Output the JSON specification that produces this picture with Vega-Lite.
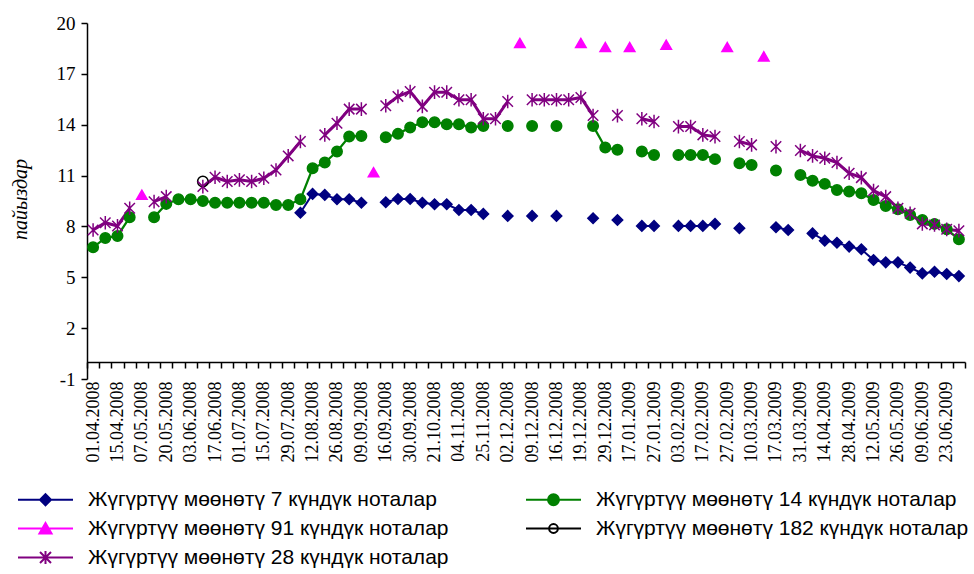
{
  "$schema": "https://vega.github.io/schema/vega-lite/v6.json",
  "width": 878,
  "height": 356,
  "autosize": {"type": "none"},
  "padding": {"left": 87, "top": 23, "right": 9, "bottom": 195},
  "background": "white",
  "config": {
    "view": {"stroke": null},
    "axis": {"grid": false, "domainColor": "black", "tickColor": "black", "labelColor": "black", "labelFont": "Liberation Serif, Times New Roman, serif", "labelFontSize": 18, "domainWidth": 1.5, "tickWidth": 1.5}
  },
  "data": {"values": [
    {"date":"2008-04-01","d14":6.77,"d28":7.79},
    {"date":"2008-04-08","d14":7.32,"d28":8.22},
    {"date":"2008-04-15","d14":7.44,"d28":8.03},
    {"date":"2008-04-29","d14":8.54,"d28":9.07},
    {"date":"2008-05-07","d91":9.87},
    {"date":"2008-05-13","d14":8.54,"d28":9.46},
    {"date":"2008-05-20","d14":9.33,"d28":9.76},
    {"date":"2008-05-27","d14":9.6},
    {"date":"2008-06-03","d14":9.6},
    {"date":"2008-06-10","d14":9.5,"d28":10.35,"d182":10.65},
    {"date":"2008-06-17","d14":9.4,"d28":10.9},
    {"date":"2008-06-24","d14":9.4,"d28":10.65},
    {"date":"2008-07-01","d14":9.4,"d28":10.75},
    {"date":"2008-07-08","d14":9.4,"d28":10.65},
    {"date":"2008-07-15","d14":9.4,"d28":10.84},
    {"date":"2008-07-22","d14":9.27,"d28":11.33},
    {"date":"2008-07-29","d14":9.27,"d28":12.16},
    {"date":"2008-08-05","d7":8.81,"d14":9.6,"d28":13.01},
    {"date":"2008-08-12","d7":9.92,"d14":11.43},
    {"date":"2008-08-19","d7":9.86,"d14":11.77,"d28":13.4},
    {"date":"2008-08-26","d7":9.6,"d14":12.42,"d28":14.09},
    {"date":"2008-09-02","d7":9.6,"d14":13.3,"d28":14.92},
    {"date":"2008-09-09","d7":9.4,"d14":13.34,"d28":14.92},
    {"date":"2008-09-12","d91":11.2},
    {"date":"2008-09-16","d7":9.43,"d14":13.26,"d28":15.12},
    {"date":"2008-09-23","d7":9.62,"d14":13.46,"d28":15.67},
    {"date":"2008-09-30","d7":9.62,"d14":13.84,"d28":15.96},
    {"date":"2008-10-14","d7":9.4,"d14":14.15,"d28":15.08},
    {"date":"2008-10-21","d7":9.31,"d14":14.15,"d28":15.92},
    {"date":"2008-10-28","d7":9.31,"d14":14.03,"d28":15.92},
    {"date":"2008-11-04","d7":8.97,"d14":14.03,"d28":15.47},
    {"date":"2008-11-18","d7":8.97,"d14":13.84,"d28":15.47},
    {"date":"2008-11-25","d7":8.74,"d14":13.93,"d28":14.35},
    {"date":"2008-11-28","d28":14.35},
    {"date":"2008-12-02","d7":8.62,"d14":13.93,"d28":15.37},
    {"date":"2008-12-05","d91":18.82},
    {"date":"2008-12-09","d7":8.62,"d14":13.93,"d28":15.47},
    {"date":"2008-12-12","d28":15.47},
    {"date":"2008-12-16","d7":8.62,"d14":13.93,"d28":15.47},
    {"date":"2008-12-18","d28":15.47},
    {"date":"2008-12-19","d28":15.61,"d91":18.82},
    {"date":"2008-12-23","d7":8.48,"d14":13.93,"d28":14.54},
    {"date":"2008-12-29","d14":12.65,"d91":18.58},
    {"date":"2009-01-13","d7":8.38,"d14":12.52,"d28":14.54},
    {"date":"2009-01-17","d91":18.58},
    {"date":"2009-01-20","d7":8.03,"d14":12.42,"d28":14.35},
    {"date":"2009-01-27","d7":8.03,"d14":12.22,"d28":14.19},
    {"date":"2009-01-30","d91":18.72},
    {"date":"2009-02-03","d7":8.03,"d14":12.22,"d28":13.89},
    {"date":"2009-02-10","d7":8.03,"d14":12.22,"d28":13.89},
    {"date":"2009-02-17","d7":8.03,"d14":12.22,"d28":13.4},
    {"date":"2009-02-24","d7":8.15,"d14":11.97,"d28":13.3},
    {"date":"2009-02-27","d91":18.58},
    {"date":"2009-03-03","d7":7.89,"d14":11.73,"d28":13.01},
    {"date":"2009-03-10","d14":11.63,"d28":12.81},
    {"date":"2009-03-13","d91":18.03},
    {"date":"2009-03-17","d7":7.95,"d14":11.3,"d28":12.71},
    {"date":"2009-03-24","d7":7.79},
    {"date":"2009-03-31","d14":11.04,"d28":12.48},
    {"date":"2009-04-07","d7":7.59,"d14":10.7,"d28":12.16},
    {"date":"2009-04-14","d7":7.16,"d14":10.51,"d28":12.02},
    {"date":"2009-04-21","d7":7.04,"d14":10.15,"d28":11.77},
    {"date":"2009-04-28","d7":6.81,"d14":10.06,"d28":11.14},
    {"date":"2009-05-05","d7":6.65,"d14":9.96,"d28":10.88},
    {"date":"2009-05-12","d7":6.02,"d14":9.56,"d28":10.11},
    {"date":"2009-05-19","d7":5.88,"d14":9.21,"d28":9.76},
    {"date":"2009-05-26","d7":5.88,"d14":9.01,"d28":9.07},
    {"date":"2009-06-02","d7":5.57,"d14":8.68,"d28":8.78},
    {"date":"2009-06-09","d7":5.23,"d14":8.38,"d28":8.15},
    {"date":"2009-06-16","d7":5.33,"d14":8.15,"d28":8.09},
    {"date":"2009-06-23","d7":5.19,"d14":7.83,"d28":7.83},
    {"date":"2009-06-30","d7":5.07,"d14":7.24,"d28":7.75}
  ]},
  "transform": [{"fold": ["d7","d14","d91","d182","d28"], "as": ["series","value"]}],
  "encoding": {
    "x": {
      "field": "date", "type": "ordinal", "timeUnit": "utcyearmonthdate",
      "scale": {"type": "band", "paddingInner": 0, "paddingOuter": 0},
      "axis": {"title": null, "orient": "bottom", "offset": -17, "format": "%d.%m.%Y", "labelAngle": 270, "labelAlign": "right", "labelBaseline": "middle", "labelPadding": 13, "tickSize": 6, "tickBand": "extent", "labelOverlap": false, "labelExpr": "round(datum.index * 71) % 2 == 0 ? datum.label : ''"}
    },
    "y": {
      "field": "value", "type": "quantitative",
      "scale": {"domain": [-1, 20], "nice": false, "zero": false},
      "axis": {"values": [-1,2,5,8,11,14,17,20], "labelExpr": "'' + datum.value", "labelFontSize": 19, "tickSize": 6, "labelPadding": 6, "title": "пайыздар", "titleFont": "Liberation Serif, Times New Roman, serif", "titleFontSize": 20, "titleFontStyle": "italic", "titleFontWeight": "normal", "titleColor": "black", "titleAngle": 270, "titleX": -67, "titleY": 176, "titleAlign": "center", "titleBaseline": "middle"}
    }
  },
  "layer": [
    {
      "mark": {"type": "line", "invalid": "break-paths-show-domains"},
      "encoding": {
        "stroke": {"field": "series", "type": "nominal", "legend": null, "scale": {"domain": ["d7","d14","d91","d182","d28"], "range": ["#000080","#008000","#FF00FF","#000000","#800080"]}},
        "strokeWidth": {"field": "series", "type": "ordinal", "legend": null, "scale": {"domain": ["d7","d14","d91","d182","d28"], "range": [2, 3, 1, 1, 2]}}
      }
    },
    {
      "mark": {"type": "point", "opacity": 1, "strokeWidth": 1.5},
      "encoding": {
        "shape": {"field": "series", "type": "nominal", "legend": null, "scale": {"domain": ["d7","d14","d91","d182","d28"], "range": ["diamond", "circle", "triangle-up", "circle", "M-1,-1L1,1M-1,1L1,-1M0,-1.3L0,1.3"]}},
        "fill": {"field": "series", "type": "nominal", "legend": null, "scale": {"domain": ["d7","d14","d91","d182","d28"], "range": ["#000080","#008000","#FF00FF","transparent","transparent"]}},
        "stroke": {"field": "series", "type": "nominal", "legend": null, "scale": {"domain": ["d7","d14","d91","d182","d28"], "range": ["#000080","#008000","#FF00FF","#000000","#800080"]}},
        "size": {"field": "series", "type": "ordinal", "legend": null, "scale": {"domain": ["d7","d14","d91","d182","d28"], "range": [110, 110, 160, 70, 150]}}
      }
    },
    {
      "transform": [{"filter": "false"}],
      "mark": {"type": "point", "opacity": 1, "strokeWidth": 2, "size": 121},
      "encoding": {
        "shape": {"field": "series", "type": "nominal", "scale": {"domain": ["d7","d14","d91","d182","d28"], "range": ["M-1,0H9M4,-1L5,0L4,1L3,0Z", "M-1,0H9M3,0A1,1 0 1,0 5,0A1,1 0 1,0 3,0Z", "M-1,0H9M4,-1L5.1,0.9L2.9,0.9Z", "M-1,0H9M3.2,0A0.8,0.8 0 1,0 4.8,0A0.8,0.8 0 1,0 3.2,0Z", "M-1,0H9M3,-1L5,1M3,1L5,-1M4,-1.2L4,1.2"]},
          "legend": {"title": null, "orient": "none", "legendX": -74, "legendY": 466, "columns": 2, "direction": "horizontal", "padding": 0, "symbolSize": 121, "symbolStrokeWidth": 2, "labelOffset": 54, "columnPadding": 72, "rowPadding": 7, "labelFont": "Liberation Sans, Arial, sans-serif", "labelFontSize": 21, "labelColor": "black", "labelLimit": 0, "labelExpr": "'Жүгүртүү мөөнөтү ' + slice(datum.label, 1) + ' күндүк ноталар'"}},
        "fill": {"field": "series", "type": "nominal", "scale": {"domain": ["d7","d14","d91","d182","d28"], "range": ["#000080","#008000","#FF00FF","transparent","transparent"]},
          "legend": {"title": null, "orient": "none", "legendX": -74, "legendY": 466, "columns": 2, "direction": "horizontal", "padding": 0, "symbolSize": 121, "symbolStrokeWidth": 2, "labelOffset": 54, "columnPadding": 72, "rowPadding": 7, "labelFont": "Liberation Sans, Arial, sans-serif", "labelFontSize": 21, "labelColor": "black", "labelLimit": 0, "labelExpr": "'Жүгүртүү мөөнөтү ' + slice(datum.label, 1) + ' күндүк ноталар'"}},
        "stroke": {"field": "series", "type": "nominal", "scale": {"domain": ["d7","d14","d91","d182","d28"], "range": ["#000080","#008000","#FF00FF","#000000","#800080"]},
          "legend": {"title": null, "orient": "none", "legendX": -74, "legendY": 466, "columns": 2, "direction": "horizontal", "padding": 0, "symbolSize": 121, "symbolStrokeWidth": 2, "labelOffset": 54, "columnPadding": 72, "rowPadding": 7, "labelFont": "Liberation Sans, Arial, sans-serif", "labelFontSize": 21, "labelColor": "black", "labelLimit": 0, "labelExpr": "'Жүгүртүү мөөнөтү ' + slice(datum.label, 1) + ' күндүк ноталар'"}}
      }
    }
  ],
  "resolve": {"scale": {"shape": "independent", "fill": "independent", "stroke": "independent", "size": "independent", "strokeWidth": "independent"}}
}
